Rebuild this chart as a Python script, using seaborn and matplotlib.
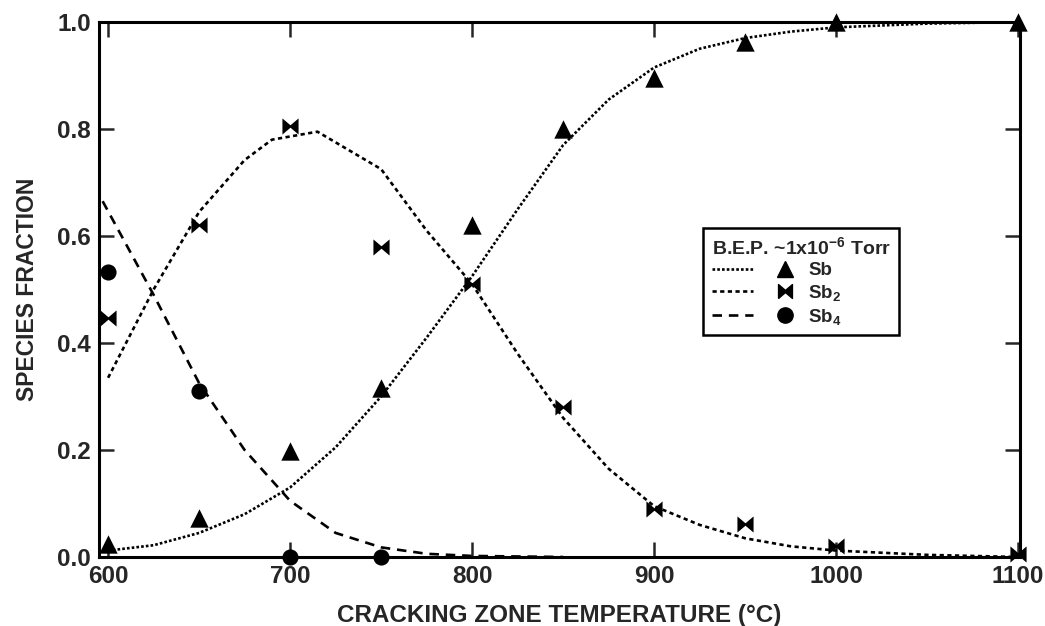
import numpy as np
import pandas as pd
import seaborn as sns
import matplotlib
matplotlib.use("Agg")
import matplotlib.pyplot as plt
from matplotlib.lines import Line2D
from matplotlib.legend_handler import HandlerTuple
from matplotlib.ticker import FormatStrFormatter

# ---- measured data points ----
temps_meas = [600, 650, 700, 750, 800, 850, 900, 950, 1000, 1100]
sb_meas = [0.025, 0.072, 0.198, 0.316, 0.62, 0.80, 0.895, 0.963, 1.0, 1.0]
sb2_meas = [0.447, 0.62, 0.805, 0.58, 0.51, 0.28, 0.09, 0.062, 0.02, 0.006]
sb4_temps = [600, 650, 700, 750]
sb4_meas = [0.533, 0.31, 0.0, 0.0]

# ---- model curves ----
sb_fit_t = [600, 625, 650, 675, 700, 725, 750, 775, 800, 825, 850, 875, 900, 925, 950, 975, 1000, 1050, 1100]
sb_fit = [0.012, 0.022, 0.045, 0.08, 0.13, 0.205, 0.30, 0.41, 0.525, 0.65, 0.77, 0.855, 0.915, 0.95, 0.97, 0.982, 0.99, 0.997, 1.0]
sb2_fit_t = [600, 625, 650, 675, 690, 715, 750, 775, 800, 825, 850, 875, 900, 925, 950, 975, 1000, 1050, 1100]
sb2_fit = [0.335, 0.50, 0.645, 0.742, 0.78, 0.795, 0.725, 0.61, 0.51, 0.38, 0.26, 0.165, 0.095, 0.06, 0.035, 0.02, 0.012, 0.004, 0.0]
sb4_fit_t = [597, 625, 650, 675, 700, 725, 750, 775, 800, 850]
sb4_fit = [0.665, 0.49, 0.325, 0.2, 0.105, 0.045, 0.018, 0.006, 0.002, 0.0]

species = ["Sb", "Sb$_2$", "Sb$_4$"]
legend_title = "B.E.P. ~1x10$^{-6}$ Torr"
x_label = "CRACKING ZONE TEMPERATURE (°C)"
y_label = "SPECIES FRACTION"
x_ticks = [600, 700, 800, 900, 1000, 1100]
y_ticks = [0.0, 0.2, 0.4, 0.6, 0.8, 1.0]

sns.set_style("ticks")
plt.rcParams["font.family"] = ["Liberation Sans", "DejaVu Sans"]
plt.rcParams["font.weight"] = "bold"
plt.rcParams["axes.labelweight"] = "bold"
plt.rcParams["mathtext.fontset"] = "custom"
plt.rcParams["mathtext.rm"] = "Liberation Sans:bold"
plt.rcParams["mathtext.it"] = "Liberation Sans:bold"
plt.rcParams["mathtext.bf"] = "Liberation Sans:bold"
plt.rcParams["mathtext.default"] = "rm"

fig = plt.figure(figsize=(10.45, 6.26), dpi=100)
ax = fig.add_axes([99 / 1045, 1 - 557 / 626, (1020 - 99) / 1045, (557 - 22) / 626])

ls_sb = (0, (1, 0.8))
ls_sb2 = (0, (1.6, 1.3))
ls_sb4 = (0, (3.6, 2.6))
lw = 1.9

sns.lineplot(x=sb_fit_t, y=sb_fit, ax=ax, color="black", lw=lw, linestyle=ls_sb, sort=False)
sns.lineplot(x=sb2_fit_t, y=sb2_fit, ax=ax, color="black", lw=lw, linestyle=ls_sb2, sort=False)
sns.lineplot(x=sb4_fit_t, y=sb4_fit, ax=ax, color="black", lw=lw, linestyle=ls_sb4, sort=False)

bowtie = [(-1, -1), (-1, 1), (0, 0.15), (1, 1), (1, -1), (0, -0.15), (-1, -1)]

sns.scatterplot(x=temps_meas, y=sb_meas, ax=ax, marker="^", s=175, color="black",
                linewidth=0, clip_on=False, zorder=4)
sns.scatterplot(x=temps_meas, y=sb2_meas, ax=ax, marker=bowtie, s=135, color="black",
                linewidth=0, clip_on=False, zorder=4)
sns.scatterplot(x=sb4_temps, y=sb4_meas, ax=ax, marker="o", s=135, color="black",
                linewidth=0, clip_on=False, zorder=4)

ax.set_xlim(595, 1101)
ax.set_ylim(0, 1)
ax.set_xticks(x_ticks)
ax.set_yticks(y_ticks)
ax.yaxis.set_major_formatter(FormatStrFormatter("%.1f"))
ax.tick_params(direction="in", length=11, width=1.8, top=True, right=True,
               labelsize=17.5, pad=6)
for lab in ax.get_xticklabels() + ax.get_yticklabels():
    lab.set_fontweight("bold")
for sp in ax.spines.values():
    sp.set_visible(True)
    sp.set_linewidth(2.2)
    sp.set_color("black")

ax.set_xlabel(x_label, fontsize=17.5, fontweight="bold", labelpad=11)
ax.set_ylabel(y_label, fontsize=16.5, fontweight="bold", labelpad=13)

handles = [
    (Line2D([], [], color="black", lw=lw, linestyle=ls_sb),
     Line2D([], [], color="black", marker="^", ls="none", ms=12)),
    (Line2D([], [], color="black", lw=lw, linestyle=ls_sb2),
     Line2D([], [], color="black", marker=bowtie, ls="none", ms=10)),
    (Line2D([], [], color="black", lw=lw, linestyle=ls_sb4),
     Line2D([], [], color="black", marker="o", ls="none", ms=11)),
]
leg = ax.legend(handles, species, handler_map={tuple: HandlerTuple(ndivide=None, pad=0.6)},
                loc="upper left", bbox_to_anchor=(0.656, 0.615), borderaxespad=0,
                title=legend_title, title_fontproperties={"size": 14, "weight": "bold"},
                prop={"size": 13.5, "weight": "bold"}, handlelength=5.0,
                handletextpad=0.15, labelspacing=0.2, borderpad=0.45,
                fancybox=False, framealpha=1, edgecolor="black", alignment="left")
leg.get_frame().set_linewidth(1.8)

fig.savefig("out.png", dpi=100)
